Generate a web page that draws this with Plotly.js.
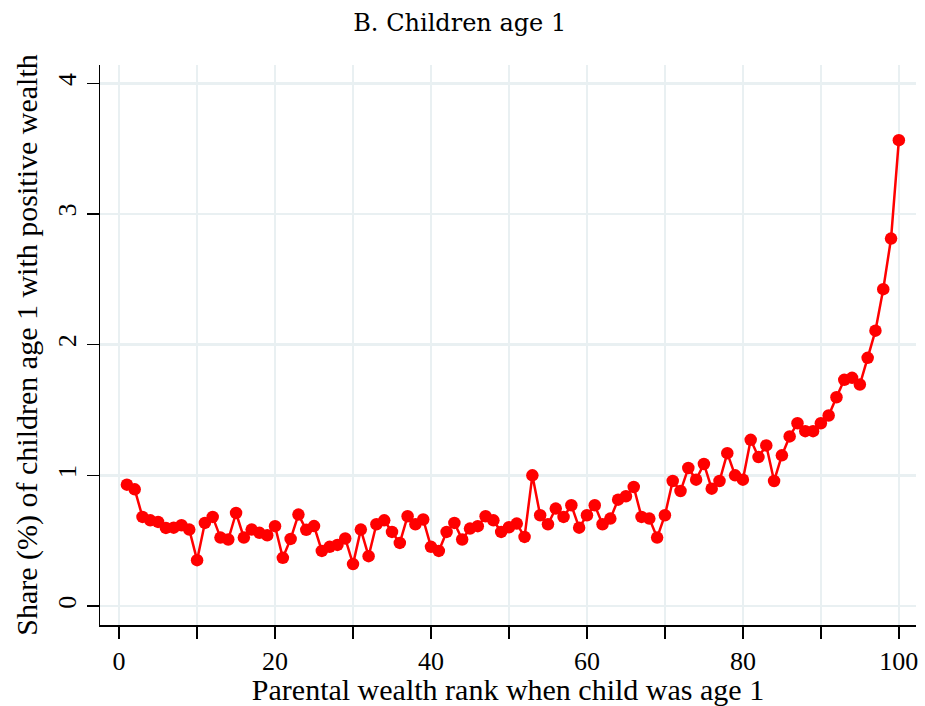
<!DOCTYPE html>
<html>
<head>
<meta charset="utf-8">
<script src="https://cdn.plot.ly/plotly-3.0.1.min.js"></script>
<style>html,body{margin:0;padding:0;background:#fff;}#chart{width:925px;height:706px;}</style>
</head>
<body>
<div id="chart"></div>
<script>
const ranks = [];
for (let i = 1; i <= 100; i++) ranks.push(i);
const shares = [
  0.929, 0.893, 0.682, 0.656, 0.644, 0.598, 0.600, 0.618, 0.585, 0.351,
  0.636, 0.682, 0.524, 0.509, 0.712, 0.524, 0.585, 0.560, 0.542, 0.611,
  0.369, 0.514, 0.700, 0.583, 0.612, 0.422, 0.453, 0.468, 0.517, 0.321,
  0.585, 0.382, 0.626, 0.656, 0.567, 0.483, 0.687, 0.626, 0.662, 0.453,
  0.422, 0.567, 0.636, 0.509, 0.593, 0.611, 0.687, 0.656, 0.567, 0.603,
  0.631, 0.529, 1.000, 0.695, 0.626, 0.746, 0.682, 0.771, 0.600, 0.695,
  0.771, 0.626, 0.669, 0.814, 0.840, 0.911, 0.682, 0.669, 0.524, 0.695,
  0.957, 0.880, 1.056, 0.967, 1.087, 0.898, 0.957, 1.170, 1.000, 0.967,
  1.272, 1.140, 1.229, 0.957, 1.153, 1.298, 1.399, 1.338, 1.338, 1.399,
  1.458, 1.598, 1.731, 1.746, 1.695, 1.899, 2.107, 2.425, 2.812, 3.565
];
const xTickVals = [0, 10, 20, 30, 40, 50, 60, 70, 80, 90, 100];
const xTickText = ["0", "", "20", "", "40", "", "60", "", "80", "", "100"];
const yTickVals = [0, 1, 2, 3, 4];
const yTickText = ["0", "1", "2", "3", "4"];

const font = "Liberation Serif";
const trace = {
  x: ranks, y: shares, type: "scatter", mode: "lines+markers",
  line: {color: "#ff0000", width: 2.5},
  marker: {color: "#ff0000", size: 12.5},
  hoverinfo: "x+y"
};
const layout = {
  width: 925, height: 706,
  margin: {l: 100, r: 9, t: 65, b: 81},
  paper_bgcolor: "#ffffff", plot_bgcolor: "#ffffff",
  showlegend: false,
  font: {family: font, color: "#000000", size: 26},
  title: {text: "B. Children age 1", x: 0.497, xanchor: "center", y: 0.968, yanchor: "middle",
          font: {family: "DejaVu Serif", size: 24, color: "#000000"}},
  xaxis: {
    range: [-2.45, 102.2], tickmode: "array", tickvals: xTickVals, ticktext: xTickText,
    showgrid: true, gridcolor: "#e9f0f2", gridwidth: 2.5,
    zeroline: false, showline: true, linecolor: "#000000", linewidth: 1.5,
    ticks: "outside", ticklen: 12, tickwidth: 1.5, tickcolor: "#000000",
    tickfont: {family: font, size: 26},
    title: {text: "Parental wealth rank when child was age 1", font: {family: font, size: 30}, standoff: 2}
  },
  yaxis: {
    range: [-0.145, 4.14], tickmode: "array", tickvals: yTickVals, ticktext: yTickText,
    tickangle: -90,
    showgrid: true, gridcolor: "#e9f0f2", gridwidth: 2.5,
    zeroline: false, showline: true, linecolor: "#000000", linewidth: 1.5,
    ticks: "outside", ticklen: 12, tickwidth: 1.5, tickcolor: "#000000",
    tickfont: {family: font, size: 26},
    title: {text: "Share (%) of children age 1 with positive wealth", font: {family: font, size: 30}, standoff: 6}
  }
};
Plotly.newPlot("chart", [trace], layout, {displayModeBar: false, staticPlot: true});
</script>
</body>
</html>
